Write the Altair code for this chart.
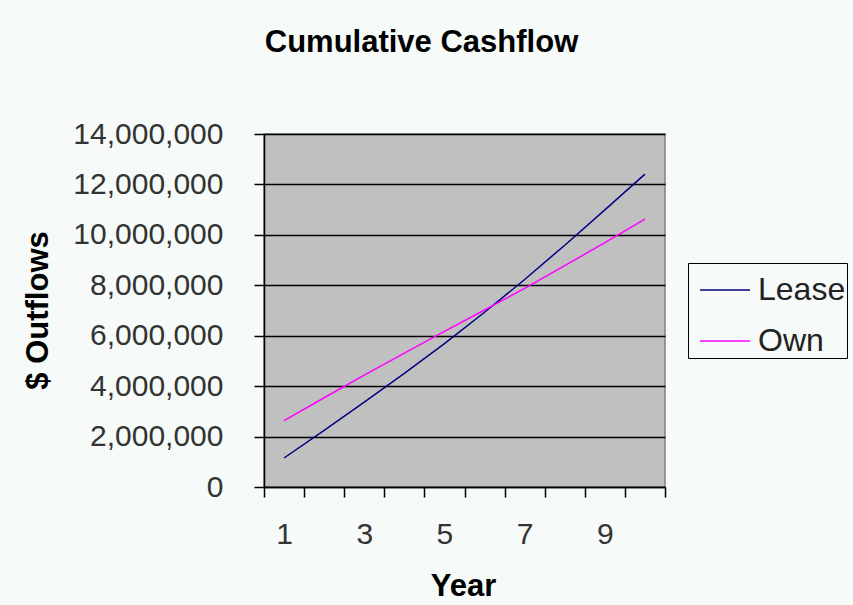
import altair as alt
import pandas as pd

years = list(range(1, 11))
lease = [1150000, 2250000, 3370000, 4510000, 5690000, 6930000, 8230000, 9590000, 10990000, 12410000]
own = [2630000, 3540000, 4440000, 5310000, 6170000, 7020000, 7880000, 8780000, 9690000, 10620000]
series = ["Lease", "Own"]
colors = ["#000080", "#FF00FF"]
y_ticks = [0, 2000000, 4000000, 6000000, 8000000, 10000000, 12000000, 14000000]
x_ticks = [0.5 + 0.5 * i for i in range(21)]

rows = []
for yr, l, o in zip(years, lease, own):
    rows.append({"Year": yr, "Series": "Lease", "Value": l})
    rows.append({"Year": yr, "Series": "Own", "Value": o})
df = pd.DataFrame(rows)

BG = "#F6FAF8"
FONT = "Liberation Sans"

chart = alt.Chart(df).mark_line(strokeWidth=1.5).encode(
    x=alt.X(
        "Year:Q",
        title="Year",
        scale=alt.Scale(domain=[0.5, 10.5], nice=False, zero=False),
        axis=alt.Axis(
            values=x_ticks,
            labelExpr="datum.value % 2 == 1 ? format(datum.value, 'd') : ''",
            tickOpacity={"condition": {"test": "datum.value % 1 != 0", "value": 1}, "value": 0},
            grid=False,
            domainColor="#000000",
            domainWidth=1.5,
            tickColor="#000000",
            tickWidth=1.5,
            tickSize=10,
            labelFont=FONT,
            labelFontSize=30,
            labelColor="#333333",
            labelBaseline="alphabetic",
            labelPadding=46,
            labelOverlap=False,
            titleFont=FONT,
            titleFontSize=31,
            titleFontWeight="bold",
            titleColor="#000000",
            titleX=199,
            titleY=108,
            titleBaseline="alphabetic",
            titleAlign="center",
        ),
    ),
    y=alt.Y(
        "Value:Q",
        title="$ Outflows",
        scale=alt.Scale(domain=[0, 14000000], nice=False),
        axis=alt.Axis(
            values=y_ticks,
            format=",.0f",
            grid=True,
            gridColor="#000000",
            gridWidth=1.5,
            gridOpacity=1,
            domainColor="#000000",
            domainWidth=1.5,
            tickColor="#000000",
            tickWidth=1.5,
            tickSize=10,
            labelFont=FONT,
            labelFontSize=30,
            labelColor="#333333",
            labelPadding=31,
            labelOverlap=False,
            titleFont=FONT,
            titleFontSize=31,
            titleFontWeight="bold",
            titleColor="#000000",
            titleX=-226,
            titleY=176,
            titleBaseline="middle",
            titleAlign="center",
            titleAngle=270,
        ),
    ),
    color=alt.Color(
        "Series:N",
        scale=alt.Scale(domain=series, range=colors),
        legend=alt.Legend(
            title=None,
            orient="none",
            legendX=424,
            legendY=129,
            symbolType="stroke",
            symbolSize=2500,
            symbolStrokeWidth=1.5,
            symbolOffset=10,
            labelFont=FONT,
            labelFontSize=32,
            labelColor="#222222",
            labelOffset=7,
            labelLimit=300,
            rowPadding=9,
            padding=1,
            strokeColor="#000000",
            fillColor=BG,
            cornerRadius=0,
        ),
    ),
).properties(
    width=401,
    height=353,
    padding={"left": 264, "top": 134, "right": 188, "bottom": 118},
    autosize=alt.AutoSizeParams(type="none"),
    background=BG,
    title=alt.TitleParams(
        text="Cumulative Cashflow",
        font=FONT,
        fontSize=31,
        fontWeight="bold",
        color="#000000",
        anchor="middle",
        frame="group",
        dx=-43,
        offset=60,
    ),
).configure_view(
    fill="#C0C0C0",
    stroke="#808080",
    strokeWidth=1.5,
)

chart.save("out.html", embed_options={"renderer": "svg", "actions": False})
